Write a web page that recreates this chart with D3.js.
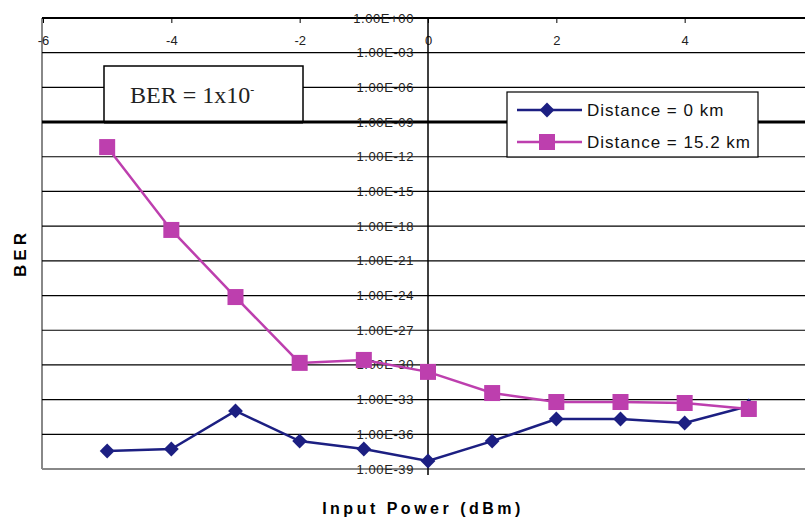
<!DOCTYPE html>
<html>
<head>
<meta charset="utf-8">
<script src="https://cdn.jsdelivr.net/npm/d3@7"></script>
<style>
  body { margin: 0; background: #fff; }
  svg { display: block; }
</style>
</head>
<body>
<svg id="chart"></svg>
<script>
// input power (dBm)
var power = [-5, -4, -3, -2, -1, 0, 1, 2, 3, 4, 5];
// BER
var ber0 = [3.6e-38, 5.4e-38, 1.05e-34, 2.6e-37, 5.4e-38, 4.9e-39, 2.6e-37, 2.1e-35, 2.1e-35, 9.5e-36, 2.8e-34];
var ber15 = [6.9e-12, 4.7e-19, 7.4e-25, 1.5e-30, 2.7e-30, 2.5e-31, 3.7e-33, 6.2e-34, 6.2e-34, 5.1e-34, 1.55e-34];
var xTicks = [-6, -4, -2, 0, 2, 4];
var yExp = [0, -3, -6, -9, -12, -15, -18, -21, -24, -27, -30, -33, -36, -39];
var seriesNames = ['Distance = 0 km', 'Distance = 15.2 km'];
var threshold = 1e-9;

var W = 805, H = 518;
var svg = d3.select('#chart').attr('width', W).attr('height', H);

var x = d3.scaleLinear().domain([-6, 6]).range([43, 813]);
var y = d3.scaleLog().domain([1, 1e-39]).range([18, 469]);

var navy = '#1c1f82', magenta = '#bd3fae';
var narrow = 'Liberation Sans Narrow, Liberation Sans, Arial';

// plot border (gray left / bottom)
svg.append('line').attr('x1', 42).attr('x2', 42).attr('y1', y(1)).attr('y2', y(1e-39))
   .attr('stroke', '#888').attr('stroke-width', 2);
svg.append('line').attr('x1', 42).attr('x2', W).attr('y1', y(1e-39)).attr('y2', y(1e-39))
   .attr('stroke', '#888').attr('stroke-width', 2);

// horizontal gridlines
svg.selectAll('.grid').data(yExp.slice(1, -1))
   .join('line')
   .attr('class', 'grid')
   .attr('x1', 42).attr('x2', W)
   .attr('y1', d => y(Math.pow(10, d))).attr('y2', d => y(Math.pow(10, d)))
   .attr('stroke', '#000').attr('stroke-width', 1.2);

// threshold line
svg.append('line').attr('x1', 42).attr('x2', W)
   .attr('y1', y(threshold)).attr('y2', y(threshold))
   .attr('stroke', '#000').attr('stroke-width', 3);

// x axis at top
var xAxis = d3.axisBottom(x).tickValues(xTicks).tickSize(5).tickFormat(d => d);
var gx = svg.append('g').attr('transform', 'translate(0,' + y(1) + ')').call(xAxis);
gx.select('.domain').attr('stroke-width', 2).attr('d', 'M42,0H' + W);
gx.selectAll('text').attr('dy', '1.45em').attr('fill', '#222')
  .style('font-family', narrow).style('font-size', '13px');

// y axis at x = 0
svg.append('line').attr('x1', x(0)).attr('x2', x(0)).attr('y1', y(1)).attr('y2', y(1e-39) + 6)
   .attr('stroke', '#000').attr('stroke-width', 1.5);
svg.selectAll('.ylab').data(yExp)
   .join('text')
   .attr('class', 'ylab')
   .attr('x', x(0) - 14)
   .attr('y', d => y(Math.pow(10, d)))
   .attr('dy', '0.35em')
   .attr('text-anchor', 'end')
   .style('font-family', narrow)
   .style('font-size', '13px')
   .style('letter-spacing', '0.6px')
   .attr('fill', '#222')
   .text(d => '1.00E' + (d < 0 ? '-' : '+') + String(Math.abs(d)).padStart(2, '0'));

// lines
var line = d3.line().x((d, i) => x(power[i])).y(d => y(d));
svg.append('path').datum(ber0).attr('d', line).attr('fill', 'none')
   .attr('stroke', navy).attr('stroke-width', 2.5);
svg.append('path').datum(ber15).attr('d', line).attr('fill', 'none')
   .attr('stroke', magenta).attr('stroke-width', 2.5);

var diamond = d3.symbol().type(d3.symbolDiamond2).size(140);
svg.selectAll('.m0').data(ber0).join('path')
   .attr('class', 'm0')
   .attr('d', diamond)
   .attr('transform', (d, i) => 'translate(' + x(power[i]) + ',' + y(d) + ')')
   .attr('fill', navy);
svg.selectAll('.m15').data(ber15).join('rect')
   .attr('class', 'm15')
   .attr('x', (d, i) => x(power[i]) - 8).attr('y', d => y(d) - 8)
   .attr('width', 16).attr('height', 16)
   .attr('fill', magenta);

// BER annotation box
svg.append('rect').attr('x', 104).attr('y', 66).attr('width', 199).attr('height', y(threshold) - 66)
   .attr('fill', '#fff').attr('stroke', '#000').attr('stroke-width', 1.5);
var ann = svg.append('text').attr('x', 130).attr('y', 103)
   .style('font-family', 'Liberation Serif, Times New Roman, serif').style('font-size', '24px')
   .attr('fill', '#222');
ann.append('tspan').text('BER = 1x10');
ann.append('tspan').attr('dy', -9).style('font-size', '12px').text('-');
svg.append('line').attr('x1', 104).attr('x2', 303).attr('y1', y(threshold)).attr('y2', y(threshold))
   .attr('stroke', '#000').attr('stroke-width', 3);

// legend
var lg = svg.append('g').attr('transform', 'translate(507,92)');
lg.append('rect').attr('width', 251).attr('height', 65)
  .attr('fill', '#fff').attr('stroke', '#000').attr('stroke-width', 1.2);
var items = lg.selectAll('.item').data(seriesNames).join('g')
  .attr('class', 'item')
  .attr('transform', (d, i) => 'translate(0,' + (18 + i * 32) + ')');
items.append('line').attr('x1', 10).attr('x2', 75).attr('stroke', (d, i) => i ? magenta : navy)
  .attr('stroke-width', 2.5);
items.each(function (d, i) {
  var g = d3.select(this);
  if (i === 0) g.append('path').attr('d', diamond).attr('transform', 'translate(40,0)').attr('fill', navy);
  else g.append('rect').attr('x', 32).attr('y', -8).attr('width', 16).attr('height', 16).attr('fill', magenta);
});
items.append('text').attr('x', 80).attr('dy', '0.35em')
  .style('font-family', 'Liberation Sans, Arial').style('font-size', '17px')
  .style('letter-spacing', '1px')
  .attr('fill', '#111')
  .text(d => d);

// axis titles
svg.append('text').attr('transform', 'translate(26,253) rotate(-90)')
   .attr('text-anchor', 'middle')
   .style('font-family', 'Liberation Sans, Arial').style('font-size', '17px').style('font-weight', 'bold')
   .style('letter-spacing', '4px')
   .text('BER');
svg.append('text').attr('x', 423).attr('y', 514)
   .attr('text-anchor', 'middle')
   .style('font-family', 'Liberation Sans, Arial').style('font-size', '16px').style('font-weight', 'bold')
   .style('letter-spacing', '3.5px')
   .text('Input Power (dBm)');
</script>
</body>
</html>
